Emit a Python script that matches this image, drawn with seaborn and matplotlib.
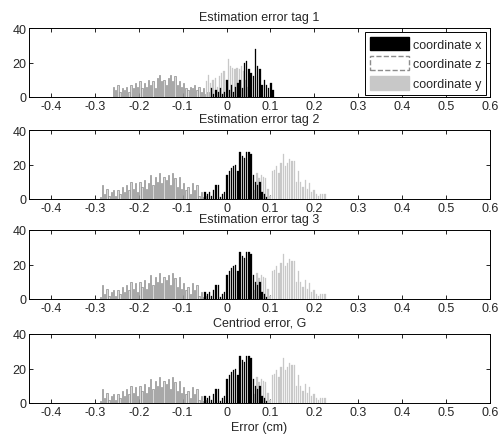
import numpy as np
import pandas as pd
import matplotlib
matplotlib.use("Agg")
import matplotlib.pyplot as plt
from matplotlib.patches import Patch
import seaborn as sns

# bin width shared by all histograms (cm)
BIN_W = 0.005

# ---- tag 1 ----
TAG1_X_START = -0.0325
TAG1_X = [5, 2, 4, 3, 5, 2, 3, 10, 4, 7, 3, 6, 8, 10, 5, 20, 21, 16, 14, 12,
          28, 18, 16, 7, 10, 7, 5, 8, 4]
TAG1_Z_START = -0.2575
TAG1_Z = [6, 4, 7, 3, 5, 4, 6, 3, 7, 5, 8, 6, 9, 5, 8, 6, 10, 7, 9, 5,
          11, 13, 9, 10, 7, 11, 13, 9, 12, 7, 9, 6, 8, 5, 4, 6, 5, 7, 4, 6,
          3, 5, 2, 3]
TAG1_Y_START = -0.0475
TAG1_Y = [9, 13, 8, 10, 11, 6, 12, 14, 15, 10, 22, 18, 17, 16, 17, 16, 18, 15,
          10, 6, 3]

# ---- tags 2, 3 and centroid (look the same in the figure) ----
TAG2_X_START = -0.0475
TAG2_X = [4, 3, 4, 2, 5, 8, 8, 1, 3, 4, 14, 16, 18, 19, 20, 16, 27, 25, 24,
          27, 27, 26, 14, 10, 8, 10, 4, 3, 1]
TAG2_Z_START = -0.2875
TAG2_Z = [1, 8, 3, 6, 2, 4, 5, 2, 5, 3, 7, 4, 8, 5, 10, 6, 9, 4, 10, 7,
          11, 6, 9, 14, 8, 13, 10, 15, 9, 13, 11, 14, 8, 15, 12, 7, 13, 6, 9, 5,
          7, 3, 9, 5, 8, 2, 4, 1, 2]
TAG2_Y_START = 0.0625
TAG2_Y = [5, 15, 12, 14, 13, 12, 6, 2, 16, 17, 19, 15, 21, 26, 19, 21, 23, 22,
          22, 10, 16, 10, 7, 11, 6, 9, 4, 5, 3, 2, 3, 3, 3]

TITLES = ["Estimation error tag 1", "Estimation error tag 2",
          "Estimation error tag 3", "Centriod error, G"]
PANELS = [
    (TAG1_X_START, TAG1_X, TAG1_Z_START, TAG1_Z, TAG1_Y_START, TAG1_Y),
    (TAG2_X_START, TAG2_X, TAG2_Z_START, TAG2_Z, TAG2_Y_START, TAG2_Y),
    (TAG2_X_START, TAG2_X, TAG2_Z_START, TAG2_Z, TAG2_Y_START, TAG2_Y),
    (TAG2_X_START, TAG2_X, TAG2_Z_START, TAG2_Z, TAG2_Y_START, TAG2_Y),
]
XTICKS = [-0.4, -0.3, -0.2, -0.1, 0.0, 0.1, 0.2, 0.3, 0.4, 0.5, 0.6]
XTICK_LABELS = ["-0.4", "-0.3", "-0.2", "-0.1", "0", "0.1", "0.2", "0.3",
                "0.4", "0.5", "0.6"]
YTICKS = [0, 20, 40]

C_X = "#000000"
C_Y = "#c8c8c8"
C_Z_FACE = "#d8d8d8"
C_Z_EDGE = "#8c8c8c"

sns.set_style("ticks", {"xtick.direction": "in", "ytick.direction": "in"})
plt.rcParams["font.family"] = ["Liberation Sans", "DejaVu Sans"]
plt.rcParams["font.size"] = 9


def draw_series(ax, start, counts, offset, **kw):
    counts = np.asarray(counts, dtype=float)
    centers = start + BIN_W * np.arange(len(counts)) + offset
    edges = start - BIN_W / 2 + BIN_W * np.arange(len(counts) + 1) + offset
    df = pd.DataFrame({"err": centers, "n": counts})
    sns.histplot(data=df, x="err", weights="n", bins=edges.tolist(), ax=ax,
                 shrink=0.6, alpha=1, legend=False, **kw)


fig = plt.figure(figsize=(4.99, 4.39), dpi=100)
tops = [29, 131, 231, 335]
ax_h = 69
for i, (title, panel) in enumerate(zip(TITLES, PANELS)):
    top = tops[i]
    ax = fig.add_axes([29 / 499, 1 - (top + ax_h) / 439, 461 / 499, ax_h / 439])
    xs, xv, zs, zv, ys, yv = panel
    draw_series(ax, zs, zv, 0.0, color=C_Z_FACE, edgecolor=C_Z_EDGE,
                linewidth=0.5)
    draw_series(ax, ys, yv, 0.0016, color=C_Y, edgecolor=C_Y, linewidth=0.2)
    draw_series(ax, xs, xv, -0.0016, color=C_X, edgecolor=C_X, linewidth=0.2)

    ax.set_xlim(-0.45, 0.6)
    ax.set_ylim(0, 40)
    ax.set_xticks(XTICKS)
    ax.set_xticklabels(XTICK_LABELS)
    ax.set_yticks(YTICKS)
    ax.tick_params(top=True, right=True, length=3, width=0.6, pad=2,
                   labelsize=9, color="black")
    ax.set_ylabel("")
    ax.set_xlabel("")
    for s in ax.spines.values():
        s.set_visible(True)
        s.set_linewidth(0.7)
        s.set_color("black")
    ax.set_title(title, fontsize=9, pad=6)

    if i == 0:
        handles = [Patch(facecolor=C_X, edgecolor=C_X, label="coordinate x"),
                   Patch(facecolor="white", edgecolor=C_Z_EDGE, linestyle="--",
                         label="coordinate z"),
                   Patch(facecolor=C_Y, edgecolor=C_Y, label="coordinate y")]
        leg = ax.legend(handles=handles, loc="upper right", fontsize=9,
                        handlelength=3.1, handleheight=1.3, labelspacing=0.45,
                        handletextpad=0.3, borderpad=0.4, borderaxespad=0.3,
                        fancybox=False, framealpha=1)
        leg.get_frame().set_edgecolor("black")
        leg.get_frame().set_linewidth(0.7)
    if i == 3:
        ax.set_xlabel("Error (cm)", fontsize=9, labelpad=2)

fig.savefig("out.png", dpi=100)
